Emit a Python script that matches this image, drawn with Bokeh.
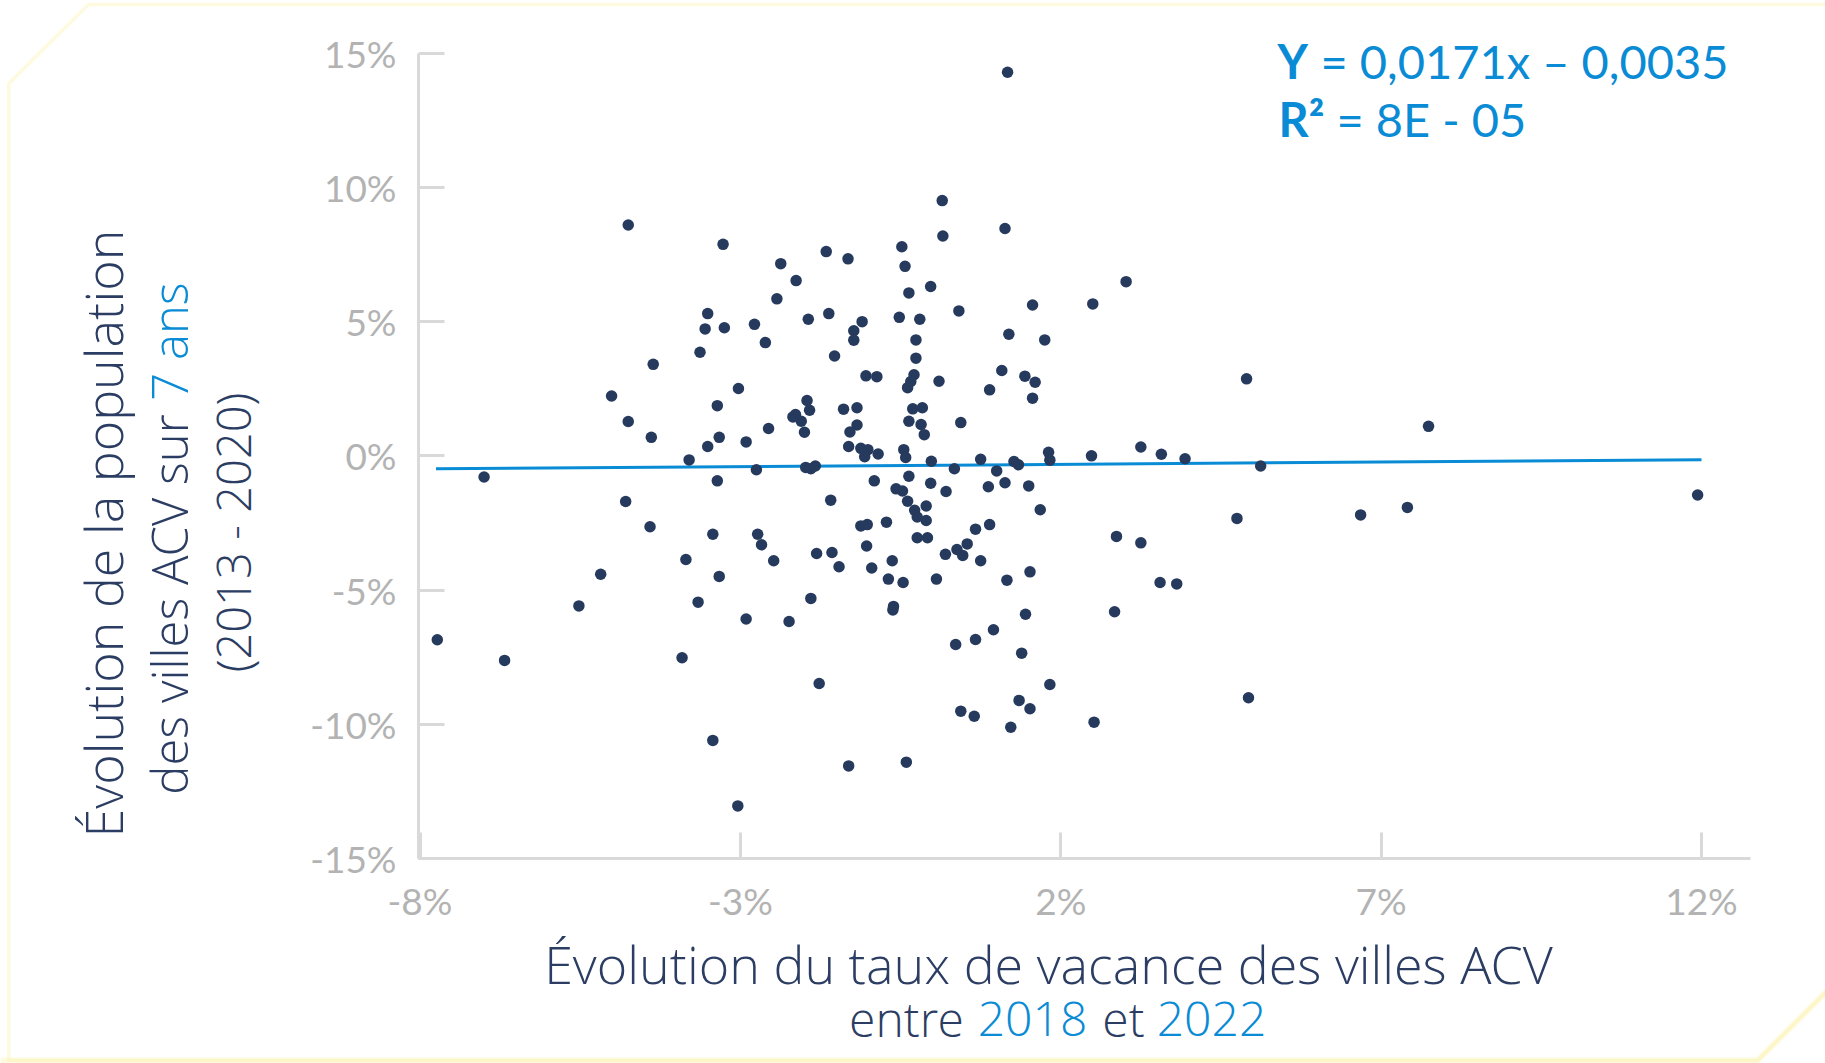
from math import pi
from bokeh.plotting import figure
from bokeh.models import (Range1d, FixedTicker, NumeralTickFormatter, Label,
                          PolyAnnotation, ColumnDataSource, LinearAxis)
from bokeh.embed import file_html
from bokeh.resources import INLINE

# ---------------- data (percent) ----------------
vacancy_change_pct = [
    -4.75, -3.27, -2.37, -1.66, -1.32, -0.48, -0.43, 0.15, 0.16, -2.13,
    -2.43, -0.03, -0.37, -3.51, -3.55, -3.25, -2.78, -2.61, -3.63, -4.36,
    -1.94, -1.62, -1.10, -1.23, -1.23, -1.53, -0.52, -0.20, -0.26, -0.26,
    -1.04, -0.87, -0.29, -0.34, -0.39, 0.10, -5.01, -3.03, -3.36, -1.96,
    -1.92, -2.14, -2.05, -2.18, -2.00, -2.56, -4.75, -4.39, -3.33, -3.51,
    -2.91, -3.80, -1.39, -1.18, -1.18, -1.29, -1.31, -1.12, -1.01, -0.85,
    -1.06, -0.31, -0.16, -0.37, -0.18, -0.13, -0.45, -0.42, -0.02, -7.00,
    -2.75, -3.36, -1.98, -1.90, -1.83, -0.91, -0.37, -0.03, 0.21, -0.57,
    -0.47, -0.39, -0.28, -0.24, -0.10, -0.10, -0.24, -0.08, -1.59, -1.12,
    -1.02, -0.72, -1.03, -0.63, -0.95, -0.69, -0.46, 0.06, 0.20, -0.61,
    -0.62, -4.79, -4.41, -3.43, -2.73, -2.67, -2.48, -1.81, -1.57, -1.46,
    -3.85, -3.33, -5.18, -3.66, -5.52, -2.91, -2.24, -1.90, -7.73, -6.68,
    -3.91, -1.77, -3.43, -1.31, -0.41, -3.04, 1.17, 1.13, 3.02, 0.41,
    1.56, 2.50, 1.19, 1.75, 1.08, 1.44, 1.60, 0.89, 1.56, 4.90,
    0.44, 7.74, 0.75, 1.27, 1.34, 1.81, 1.83, 2.48, 3.25, 3.57,
    3.94, 0.34, 1.00, 0.87, 1.13, 1.50, 1.68, 5.12, 0.67, 0.89,
    0.54, 0.38, 0.47, 0.75, 1.16, 1.52, 1.45, 0.36, 0.67, 0.95,
    1.39, 1.83, 0.44, 0.65, 1.35, 1.52, 1.22, 2.52, 2.87, 3.25,
    2.84, 3.55, 3.81, 4.75, 4.93, 6.68, 7.41, 11.94,
]
population_change_pct = [
    8.60, 7.88, 7.16, 7.61, 7.34, 7.79, 7.06, 9.51, 8.19, 6.53,
    5.85, 6.31, 6.07, 5.30, 4.73, 4.77, 4.90, 4.22, 3.86, 3.41,
    5.09, 5.30, 5.00, 4.66, 4.31, 3.72, 5.16, 5.09, 4.32, 3.64,
    2.98, 2.95, 3.02, 2.77, 2.54, 2.78, 2.23, 2.51, 1.87, 2.06,
    1.70, 1.54, 1.29, 1.45, 0.88, 1.02, 1.28, 0.69, 0.69, 0.35,
    0.52, -0.15, 1.74, 1.79, 1.15, 0.89, 0.35, 0.28, 0.23, 0.07,
    -0.03, 1.75, 1.79, 1.29, 1.17, 0.79, 0.23, -0.06, -0.20, -0.79,
    -0.52, -0.93, -0.43, -0.48, -0.38, -0.93, -0.76, -1.02, -1.33, -1.23,
    -1.31, -1.69, -2.03, -2.28, -1.87, -2.41, -3.05, -3.05, -1.65, -2.61,
    -2.56, -2.47, -3.36, -3.91, -4.18, -4.59, -4.72, -4.59, -3.67, -5.61,
    -5.74, -1.70, -2.64, -2.92, -2.92, -3.31, -3.91, -3.64, -3.60, -4.13,
    -3.86, -4.49, -4.41, -5.45, -5.59, -6.08, -6.17, -5.31, -6.85, -7.62,
    -7.52, -8.48, -10.60, -11.55, -11.41, -13.04, 14.29, 8.47, 6.49, 5.40,
    5.62, 5.66, 4.53, 4.32, 3.18, 2.97, 2.74, 2.46, 2.15, 2.87,
    1.24, 1.10, -0.13, -0.21, -0.33, 0.13, -0.16, 0.00, 0.33, 0.06,
    -0.11, -0.48, -0.56, -1.15, -1.00, -1.12, -2.01, -0.38, -2.73, -2.56,
    -3.28, -3.49, -3.71, -3.91, -4.63, -4.32, -5.90, -7.03, -6.84, -6.48,
    -7.35, -8.52, -9.51, -9.70, -9.11, -9.42, -10.11, -9.92, -3.00, -3.24,
    -5.81, -4.72, -4.77, -2.33, -9.01, -2.20, -1.92, -1.46,
]
assert len(vacancy_change_pct) == len(population_change_pct)

x_ticks_pct = [-8, -3, 2, 7, 12]
y_ticks_pct = [-15, -10, -5, 0, 5, 10, 15]

# regression shown on the chart: y = 0,0171x - 0,0035
trend_slope = 0.0171
trend_intercept = -0.0035
trend_x_pct = [-7.75, 12.0]

eq_line1 = "= 0,0171x \u2013 0,0035"
eq_line2 = "= 8E - 05"

# ---------------- styling ----------------
NAVY = "#263a5e"
TXT_NAVY = "#2b3d63"
BLUE = "#0a8bd5"
GRAY_TXT = "#b3b3b3"
GRAY_AX = "#d9d9d9"
YELLOW = "#fcee94"
TICK_FONT = "Lato"
EQ_FONT = "Lato"
TITLE_FONT = "Open Sans Light, Open Sans"

W, H = 1825, 1063

# the frame covers the whole canvas; the plotting area is bounded by the axes
# pixel scale: -8% at x=419.5, 64.075 px per 1% ; 0% at y=455.35, 26.843 px per 1%
X0_PX, X_PX_PER_PCT = 419.5, 64.075
Y0_PX, Y_PX_PER_PCT = 455.35, 26.843

def px2x(px):
    return (-8 + (px - X0_PX) / X_PX_PER_PCT) / 100

def px2y(py):
    return ((Y0_PX - py) / Y_PX_PER_PCT) / 100

p = figure(width=W, height=H, output_backend="svg", toolbar_location=None, tools="",
           title=None, x_axis_type=None, y_axis_type=None,
           x_range=Range1d(px2x(0), px2x(W)), y_range=Range1d(px2y(H), px2y(0)),
           min_border=0, min_border_left=0, min_border_right=0,
           min_border_top=0, min_border_bottom=0)
p.outline_line_color = None
p.background_fill_color = "white"
p.border_fill_color = "white"

X_LEFT = px2x(418)
X_RIGHT = px2x(1750)
Y_BOTTOM = y_ticks_pct[0] / 100
Y_TOP = y_ticks_pct[-1] / 100

xa = LinearAxis(fixed_location=Y_BOTTOM, bounds=(X_LEFT, X_RIGHT),
                ticker=FixedTicker(ticks=[t / 100 for t in x_ticks_pct]))
ya = LinearAxis(fixed_location=X_LEFT, bounds=(Y_BOTTOM, Y_TOP),
                ticker=FixedTicker(ticks=[t / 100 for t in y_ticks_pct]))
for ax in (xa, ya):
    ax.formatter = NumeralTickFormatter(format="0%")
    ax.axis_line_color = GRAY_AX
    ax.axis_line_width = 3
    ax.major_tick_line_color = GRAY_AX
    ax.major_tick_line_width = 3
    ax.major_tick_in = 26
    ax.major_tick_out = 0
    ax.minor_tick_line_color = None
    ax.major_label_text_color = GRAY_TXT
    ax.major_label_text_font = TICK_FONT
    ax.major_label_text_font_size = "37px"
xa.major_label_standoff = 20
ya.major_label_standoff = 22
p.add_layout(xa, "below")
p.add_layout(ya, "left")

# trend line
tx = [v / 100 for v in trend_x_pct]
ty = [trend_slope * v + trend_intercept for v in tx]
p.line(tx, ty, line_color=BLUE, line_width=3)

# points
src = ColumnDataSource(dict(x=[v / 100 for v in vacancy_change_pct],
                            y=[v / 100 for v in population_change_pct]))
p.scatter("x", "y", source=src, size=11.5, fill_color=NAVY, line_color=None)

BASE_SHIFT = 0.39  # em offset between label anchor and drawn baseline

def lab(text, px, py, size, color, font, align="left", bold=False, angle=0.0):
    if angle:
        px = px - BASE_SHIFT * size
    else:
        py = py - BASE_SHIFT * size
    p.add_layout(Label(x=px2x(px), y=px2y(py), text=text,
                       text_font=font, text_font_size=f"{size}px",
                       text_font_style="bold" if bold else "normal",
                       text_color=color, text_align=align,
                       text_baseline="alphabetic", angle=angle))

# equation (baselines at y=79 and y=137)
lab("Y", 1277, 79, 47, BLUE, EQ_FONT, bold=True)
lab(eq_line1, 1320, 79, 47, BLUE, EQ_FONT)
lab("R\u00b2", 1278, 137, 47, BLUE, EQ_FONT, bold=True)
lab(eq_line2, 1336, 137, 47, BLUE, EQ_FONT)

# x title (baselines at y=982 and y=1037)
lab("\u00c9volution du taux de vacance des villes ACV", 1048, 983, 52,
    TXT_NAVY, TITLE_FONT, align="center")
lab("entre", 906, 1037, 48, TXT_NAVY, TITLE_FONT, align="center")
lab("2018", 1032, 1037, 48, BLUE, TITLE_FONT, align="center")
lab("et", 1123, 1037, 48, TXT_NAVY, TITLE_FONT, align="center")
lab("2022", 1211, 1037, 48, BLUE, TITLE_FONT, align="center")

# y title (rotated; baselines at x=121, 188, 251)
lab("\u00c9volution de la population", 122, 533, 52, TXT_NAVY, TITLE_FONT,
    align="center", angle=pi / 2)
lab("des villes ACV sur", 188, 604, 49, TXT_NAVY, TITLE_FONT,
    align="center", angle=pi / 2)
lab("7 ans", 188, 341, 49, BLUE, TITLE_FONT, align="center", angle=pi / 2)
lab("(2013 - 2020)", 251, 532, 47, TXT_NAVY, TITLE_FONT, align="center", angle=pi / 2)

# yellow frame with cut corners (pixel outline converted to data space)
border_px_x = [8.3, 8.3, 88, 1900, 1900, 1757]
border_px_y = [1060, 83, 4, 4, 917, 1060]
p.add_layout(PolyAnnotation(xs=[px2x(v) for v in border_px_x],
                            ys=[px2y(v) for v in border_px_y],
                            fill_color=None, fill_alpha=0, line_color=YELLOW, line_width=3.5))
thick_px_x = [-20, 1757, 1900, 1900, -20]
thick_px_y = [1060, 1060, 917, 1100, 1100]
p.add_layout(PolyAnnotation(xs=[px2x(v) for v in thick_px_x],
                            ys=[px2y(v) for v in thick_px_y],
                            fill_color=None, fill_alpha=0, line_color=YELLOW, line_width=6))

open("out.html", "w").write(file_html(p, INLINE))
